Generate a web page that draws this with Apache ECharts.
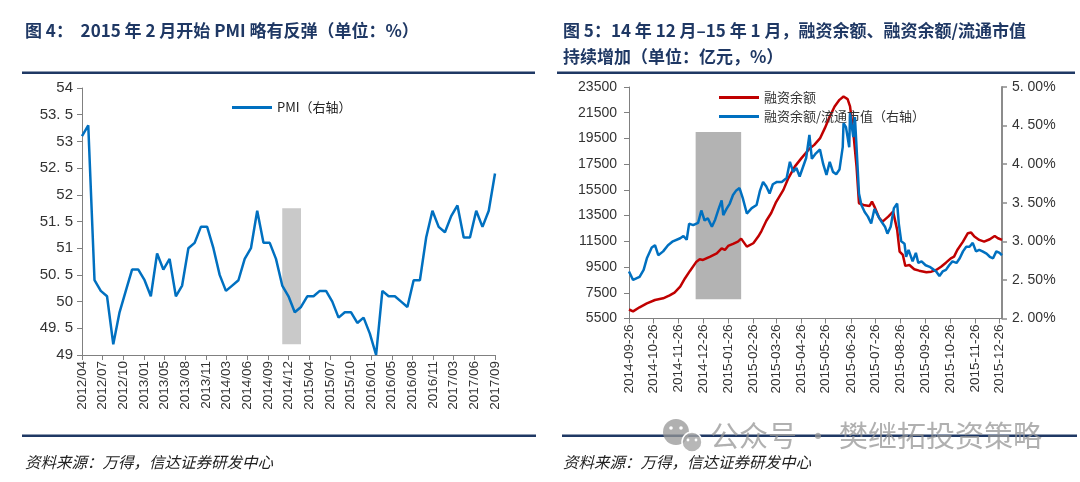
<!DOCTYPE html>
<html><head><meta charset="utf-8">
<script src="https://cdn.jsdelivr.net/npm/echarts@6/dist/echarts.min.js"></script>
<style>html,body{margin:0;padding:0;background:#fff}#c{width:1080px;height:482px}</style>
</head><body><div id="c"></div>
<script>
// ---------- Figure 4: PMI ----------
const pmiFirstMonth = [2012, 3];
const pmiValues = [53.1,53.3,50.4,50.2,50.1,49.2,49.8,50.2,50.6,50.6,
 50.4,50.1,50.9,50.6,50.8,50.1,50.3,51.0,51.1,51.4,51.4,51.0,
 50.5,50.2,50.3,50.4,50.8,51.0,51.7,51.1,51.1,50.8,50.3,50.1,
 49.8,49.9,50.1,50.1,50.2,50.2,50.0,49.7,49.8,49.8,49.6,49.7,
 49.4,49.0,50.2,50.1,50.1,50.0,49.9,50.4,50.4,51.2,51.7,51.4,
 51.3,51.6,51.8,51.2,51.2,51.7,51.4,51.7,52.4];
const pmiTickLabels = ['2012/04','2012/07','2012/10','2013/01','2013/05','2013/08','2013/11','2014/03','2014/06','2014/09','2014/12','2015/04','2015/07','2015/10','2016/01','2016/05','2016/08','2016/11','2017/03','2017/06','2017/09'];
const pmiShade = {from:'2014/11', to:'2015/02', low:49.2, high:51.75};

// ---------- Figure 5: margin financing ----------
const marginAxisStart = '2014-09-26';
const marginAxisEnd = '2015-12-29';
const balanceDates = ['2014-09-26','2014-10-01','2014-10-09','2014-10-18','2014-10-28','2014-11-07','2014-11-15','2014-11-21','2014-11-28','2014-12-04','2014-12-10','2014-12-18','2014-12-22','2014-12-26','2015-01-04','2015-01-12','2015-01-18','2015-01-22','2015-01-26','2015-02-01','2015-02-07','2015-02-11','2015-02-18','2015-02-26','2015-03-04','2015-03-08','2015-03-14','2015-03-20','2015-03-26','2015-04-04','2015-04-10','2015-04-18','2015-04-26','2015-05-06','2015-05-12','2015-05-19','2015-05-25','2015-05-31','2015-06-06','2015-06-12','2015-06-17','2015-06-22','2015-06-25','2015-06-29','2015-07-03','2015-07-06','2015-07-13','2015-07-19','2015-07-22','2015-07-25','2015-07-31','2015-08-04','2015-08-11','2015-08-17','2015-08-19','2015-08-22','2015-08-25','2015-08-29','2015-09-01','2015-09-06','2015-09-12','2015-09-18','2015-09-27','2015-10-03','2015-10-09','2015-10-15','2015-10-21','2015-10-27','2015-10-31','2015-11-04','2015-11-11','2015-11-17','2015-11-21','2015-11-25','2015-12-01','2015-12-07','2015-12-14','2015-12-20','2015-12-24','2015-12-29'];
const balanceValues = [6200,6050,6370,6680,6940,7070,7300,7510,7970,8630,9200,9920,10100,10050,10310,10570,10960,10830,11140,11300,11480,11710,11090,11350,11870,12300,13100,13700,14550,15500,16400,17310,17950,18700,19000,19500,20300,21200,21980,22500,22760,22560,22000,20000,17300,14460,14300,14250,14590,14200,13300,13030,13420,13810,13690,12390,10700,10440,9590,9660,9330,9220,9100,9140,9270,9530,9840,10180,10310,10830,11480,12130,12180,11870,11610,11480,11660,11920,11740,11610];
const ratioDates = ['2014-09-26','2014-10-01','2014-10-09','2014-10-14','2014-10-18','2014-10-24','2014-10-28','2014-11-01','2014-11-07','2014-11-13','2014-11-19','2014-11-28','2014-12-02','2014-12-06','2014-12-09','2014-12-14','2014-12-20','2014-12-24','2014-12-28','2015-01-01','2015-01-06','2015-01-10','2015-01-14','2015-01-18','2015-01-20','2015-01-24','2015-01-28','2015-02-01','2015-02-05','2015-02-09','2015-02-13','2015-02-18','2015-02-24','2015-03-02','2015-03-06','2015-03-10','2015-03-14','2015-03-18','2015-03-22','2015-03-27','2015-04-02','2015-04-08','2015-04-12','2015-04-16','2015-04-20','2015-04-24','2015-04-28','2015-05-02','2015-05-06','2015-05-09','2015-05-14','2015-05-19','2015-05-23','2015-05-27','2015-05-31','2015-06-04','2015-06-08','2015-06-12','2015-06-16','2015-06-17','2015-06-20','2015-06-24','2015-06-25','2015-06-29','2015-07-01','2015-07-03','2015-07-06','2015-07-09','2015-07-13','2015-07-17','2015-07-21','2015-07-25','2015-07-30','2015-08-03','2015-08-07','2015-08-10','2015-08-14','2015-08-18','2015-08-22','2015-08-24','2015-08-27','2015-08-31','2015-09-02','2015-09-05','2015-09-10','2015-09-14','2015-09-17','2015-09-21','2015-09-26','2015-10-01','2015-10-05','2015-10-09','2015-10-13','2015-10-17','2015-10-21','2015-10-25','2015-10-29','2015-11-03','2015-11-07','2015-11-11','2015-11-15','2015-11-19','2015-11-23','2015-11-27','2015-12-01','2015-12-05','2015-12-10','2015-12-14','2015-12-18','2015-12-22','2015-12-26','2015-12-29'];
const ratioValues = [2.61,2.50,2.54,2.63,2.78,2.92,2.95,2.82,2.87,2.95,3.00,3.04,3.07,3.02,3.23,3.21,3.24,3.40,3.27,3.30,3.19,3.28,3.41,3.53,3.34,3.42,3.49,3.60,3.66,3.69,3.56,3.36,3.43,3.47,3.65,3.77,3.71,3.62,3.74,3.77,3.77,3.82,4.03,3.90,3.95,3.84,3.96,4.08,4.38,4.07,4.14,4.19,4.00,3.86,4.03,3.90,3.87,3.93,4.22,4.53,4.48,4.22,4.66,4.35,4.61,4.22,3.62,3.47,3.38,3.32,3.23,3.42,3.32,3.25,3.19,3.10,3.19,3.43,3.49,3.23,3.00,2.97,2.80,2.89,2.74,2.85,2.72,2.74,2.69,2.67,2.64,2.61,2.55,2.61,2.63,2.69,2.74,2.72,2.78,2.87,2.93,2.93,2.98,2.87,2.89,2.87,2.84,2.80,2.78,2.87,2.85,2.82];
const marginShade = {from:'2014-12-17', to:'2015-02-11', low:7000, high:20000};

// ---------- texts ----------
const title4 = '图 4：  2015 年 2 月开始 PMI 略有反弹（单位：%）';
const title5a = '图 5：14 年 12 月–15 年 1 月，融资余额、融资余额/流通市值';
const title5b = '持续增加（单位：亿元，%）';
const sourceText = '资料来源：万得，信达证券研发中心';
const watermark = '公众号 · 樊继拓投资策略';
const pmiName = 'PMI（右轴）';
const balanceName = '融资余额';
const ratioName = '融资余额/流通市值（右轴）';

// build axis categories
const pmiMonths = [];
for (let i = 0, y = pmiFirstMonth[0], m = pmiFirstMonth[1]; i < pmiValues.length; i++) {
  pmiMonths.push(y + '/' + String(m).padStart(2, '0'));
  m++; if (m > 12) { m = 1; y++; }
}
const marginDays = [];
{
  let t = Date.UTC(2014, 8, 26);
  const end = Date.UTC(2015, 11, 29);
  while (t <= end) {
    const d = new Date(t);
    marginDays.push(d.getUTCFullYear() + '-' + String(d.getUTCMonth() + 1).padStart(2, '0') + '-' + String(d.getUTCDate()).padStart(2, '0'));
    t += 86400000;
  }
}

const NUM = '"Liberation Sans", Arial, sans-serif';
const CJK = '"Noto Sans CJK SC", sans-serif';
const AX = '#808080';
const TXT = '#333333';
const NAVY = '#1F3864';
const is26 = (idx, val) => String(val).slice(8) === '26';
const decFmt = v => {
  const s = Number.isInteger(v) ? String(v) : String(+v.toFixed(1));
  return s.replace('.', '. ');
};

const chart = echarts.init(document.getElementById('c'), null, {renderer: 'canvas'});
chart.setOption({
  animation: false,
  backgroundColor: '#fff',
  textStyle: {fontFamily: CJK},
  grid: [
    {left: 82, top: 88, width: 413, height: 267},
    {left: 629, top: 87, width: 373, height: 231.5}
  ],
  legend: [
    {data: [pmiName], left: 227, top: 96, icon: 'rect', itemWidth: 40, itemHeight: 3, itemGap: 4,
     textStyle: {fontSize: 13, color: '#222', fontFamily: CJK}},
    {data: [balanceName, ratioName], orient: 'vertical', left: 714, top: 86, icon: 'rect',
     itemWidth: 40, itemHeight: 3, itemGap: 6, textStyle: {fontSize: 13, color: '#333', fontFamily: CJK}}
  ],
  xAxis: [
    {gridIndex: 0, type: 'category', data: pmiMonths, boundaryGap: false, show: false},
    {gridIndex: 0, type: 'category', data: pmiTickLabels, boundaryGap: false, position: 'bottom',
     axisLine: {show: true, lineStyle: {color: AX, width: 1}},
     axisTick: {show: true, length: 5, interval: 0, lineStyle: {color: AX}},
     axisLabel: {rotate: 90, interval: 0, margin: 6, fontSize: 13.5, color: TXT, fontFamily: NUM},
     splitLine: {show: false}},
    {gridIndex: 1, type: 'category', data: marginDays, boundaryGap: false,
     axisLine: {show: true, lineStyle: {color: AX, width: 1}},
     axisTick: {show: true, length: 5, interval: is26, lineStyle: {color: AX}},
     axisLabel: {rotate: 90, interval: is26, margin: 6, fontSize: 13.5, color: TXT, fontFamily: NUM},
     splitLine: {show: false}}
  ],
  yAxis: [
    {gridIndex: 0, type: 'value', min: 49, max: 54, interval: 0.5,
     axisLine: {show: true, lineStyle: {color: AX}},
     axisTick: {show: true, length: 5, lineStyle: {color: AX}},
     axisLabel: {formatter: decFmt, fontSize: 15, color: TXT, fontFamily: NUM, margin: 9},
     splitLine: {show: false}},
    {gridIndex: 1, type: 'value', min: 5500, max: 23500, interval: 2000,
     axisLine: {show: true, lineStyle: {color: AX}},
     axisTick: {show: true, length: 5, lineStyle: {color: AX}},
     axisLabel: {formatter: v => String(Math.round(v)), fontSize: 14, color: TXT, fontFamily: NUM, margin: 12},
     splitLine: {show: false}},
    {gridIndex: 1, type: 'value', position: 'right', min: 2, max: 5, interval: 0.5,
     axisLine: {show: true, lineStyle: {color: '#8c8c8c', width: 2}},
     axisTick: {show: true, length: 5, lineStyle: {color: '#8c8c8c', width: 1.5}},
     axisLabel: {formatter: v => v.toFixed(2).replace('.', '. ') + '%', fontSize: 14, color: TXT, fontFamily: NUM, margin: 10},
     splitLine: {show: false}}
  ],
  series: [
    {name: pmiName, type: 'line', xAxisIndex: 0, yAxisIndex: 0, data: pmiValues,
     symbol: 'none', lineStyle: {color: '#0070C0', width: 2.5}, itemStyle: {color: '#0070C0'},
     markArea: {silent: true, itemStyle: {color: '#C9C9C9'},
       data: [[{xAxis: pmiShade.from, yAxis: pmiShade.high}, {xAxis: pmiShade.to, yAxis: pmiShade.low}]]},
     z: 3},
    {name: balanceName, type: 'line', xAxisIndex: 2, yAxisIndex: 1,
     data: balanceDates.map((d, i) => [d, balanceValues[i]]),
     symbol: 'none', lineStyle: {color: '#C00000', width: 2.5}, itemStyle: {color: '#C00000'},
     markArea: {silent: true, itemStyle: {color: '#B3B3B3'},
       data: [[{xAxis: marginShade.from, yAxis: marginShade.high}, {xAxis: marginShade.to, yAxis: marginShade.low}]]},
     z: 3},
    {name: ratioName, type: 'line', xAxisIndex: 2, yAxisIndex: 2,
     data: ratioDates.map((d, i) => [d, ratioValues[i]]),
     symbol: 'none', lineStyle: {color: '#0070C0', width: 2.5}, itemStyle: {color: '#0070C0'}, z: 4}
  ],
  graphic: [
    {type: 'text', left: 25, top: 22, style: {text: title4, font: 'bold 17px ' + CJK, fill: NAVY}},
    {type: 'text', left: 563, top: 22, style: {text: title5a, font: 'bold 17px ' + CJK, fill: NAVY}},
    {type: 'text', left: 563, top: 48, style: {text: title5b, font: 'bold 17px ' + CJK, fill: NAVY}},
    {type: 'rect', shape: {x: 22, y: 71.5, width: 513, height: 2.5}, style: {fill: NAVY}},
    {type: 'rect', shape: {x: 557, y: 71.5, width: 518, height: 2.5}, style: {fill: NAVY}},
    {type: 'rect', shape: {x: 22, y: 434.5, width: 514, height: 2.5}, style: {fill: NAVY}},
    {type: 'rect', shape: {x: 562, y: 434.5, width: 515, height: 2.5}, style: {fill: NAVY}},
    {type: 'text', left: 25, top: 454, style: {text: sourceText, font: 'italic 15.5px ' + CJK, fill: '#222'}},
    {type: 'text', left: 563, top: 454, style: {text: sourceText, font: 'italic 15.5px ' + CJK, fill: '#222'}},
    {type: 'circle', shape: {cx: 676, cy: 432, r: 13}, style: {fill: 'rgba(150,150,150,0.75)'}, z: 50},
    {type: 'circle', shape: {cx: 692, cy: 442, r: 10}, style: {fill: 'rgba(165,165,165,0.8)', stroke: '#fff', lineWidth: 1.5}, z: 51},
    {type: 'circle', shape: {cx: 671, cy: 428, r: 1.8}, style: {fill: '#fff'}, z: 52},
    {type: 'circle', shape: {cx: 681, cy: 428, r: 1.8}, style: {fill: '#fff'}, z: 52},
    {type: 'circle', shape: {cx: 688, cy: 440, r: 1.4}, style: {fill: '#fff'}, z: 52},
    {type: 'circle', shape: {cx: 696, cy: 440, r: 1.4}, style: {fill: '#fff'}, z: 52},
    {type: 'text', left: 710, top: 421, z: 50, style: {text: watermark, font: '29px ' + CJK, fill: 'rgba(150,150,150,0.75)'}}
  ]
});
</script>
</body></html>
